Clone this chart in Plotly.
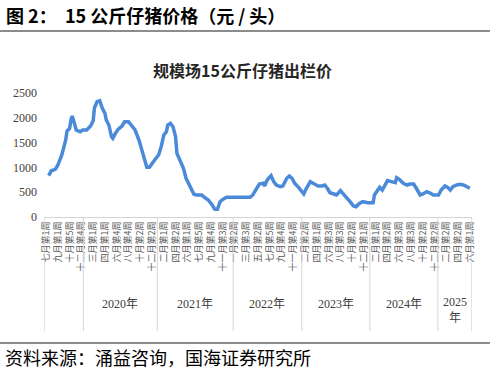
import plotly.graph_objects as go

# ---- data ----
week_idx = [2, 4, 7, 9, 12, 13, 15, 16, 18, 19, 20, 22, 23, 26, 28, 31, 34, 36, 37, 39,
            41, 43, 45, 46, 48, 50, 51, 53, 55, 58, 60, 63, 65, 68, 71, 73, 75, 77, 79, 81,
            83, 86, 88, 90, 92, 93, 95, 97, 99, 100, 102, 105, 107, 110, 113, 115, 119, 121, 124, 127,
            129, 131, 133, 135, 138, 143, 150, 156, 158, 161, 163, 166, 167, 169, 172, 174, 176, 179, 181, 184,
            186, 188, 190, 193, 195, 197, 199, 202, 204, 208, 211, 213, 215, 217, 220, 222, 225, 228, 230, 233,
            235, 237, 239, 242, 246, 250, 251, 253, 255, 257, 259, 261, 264, 267, 268, 270, 273, 276, 278, 281,
            283, 286, 288, 291, 294, 296, 300, 302, 305, 307, 309, 311, 314, 316, 319, 321, 324]
price = [833, 933, 960, 1048, 1250, 1350, 1552, 1734, 1788, 1955, 2036, 1855, 1754, 1720, 1754, 1754, 1835, 1941, 2204, 2325,
         2345, 2191, 2090, 1955, 1855, 1619, 1586, 1687, 1768, 1835, 1921, 1921, 1855, 1754, 1552, 1350, 1183, 1002, 1002, 1083,
         1149, 1250, 1418, 1653, 1720, 1855, 1889, 1821, 1619, 1284, 1149, 982, 780, 611, 458, 444, 444, 397, 343, 242,
         155, 155, 309, 356, 397, 397, 397, 397, 444, 579, 665, 679, 625, 746, 833, 712, 645, 611, 625, 780,
         827, 780, 679, 598, 524, 464, 579, 712, 679, 625, 625, 645, 579, 490, 464, 444, 530, 444, 397, 289,
         222, 208, 262, 309, 289, 289, 444, 511, 598, 544, 645, 733, 712, 692, 793, 760, 679, 645, 665, 665,
         579, 444, 464, 511, 477, 444, 444, 544, 625, 598, 544, 611, 645, 659, 645, 625, 579]

tick_text = ["七月第1周", "九月第1周", "十月第5周", "十二月第4周",
             "三月第1周", "四月第1周", "六月第4周", "八月第4周", "十月第2周", "十二月第2周",
             "二月第1周", "四月第2周", "六月第1周", "七月第5周", "九月第4周", "十一月第3周",
             "一月第2周", "三月第3周", "五月第2周", "七月第5周", "九月第4周", "十一月第4周",
             "二月第2周", "四月第1周", "六月第3周", "八月第3周", "十月第2周", "十二月第1周",
             "二月第1周", "四月第2周", "六月第3周", "八月第3周", "十月第2周", "十二月第2周",
             "二月第2周", "四月第2周", "六月第1周"]
tick_step = 9
tick_vals = [i * tick_step for i in range(len(tick_text))]

year_bounds = [-1.5, 28.5, 85, 143, 195.5, 247.5, 299.5, 325.5]
year_labels = ["", "2020年", "2021年", "2022年", "2023年", "2024年", "2025<br>年"]

y_ticks = [0, 500, 1000, 1500, 2000, 2500]

# ---- layout helpers (pixel -> paper) ----
W, H = 492, 371
L, R, T, B = 44, 20, 93, 154
PW, PH = W - L - R, H - T - B


def px(x):
    return (x - L) / PW


def py(y):
    return (H - B - y) / PH


fig = go.Figure()
fig.add_trace(go.Scatter(x=week_idx, y=price, mode="lines",
                         line=dict(color="#4A8AD8", width=3.5), hoverinfo="skip"))

shapes = []
for b in year_bounds:
    shapes.append(dict(type="line", xref="x", yref="paper", x0=b, x1=b,
                       y0=py(217), y1=py(331), line=dict(color="#d4d4d4", width=1)))
# header / footer rules
shapes.append(dict(type="line", xref="paper", yref="paper", x0=px(0), x1=px(490),
                   y0=py(31), y1=py(31), line=dict(color="#8c8c8c", width=2)))
shapes.append(dict(type="line", xref="paper", yref="paper", x0=px(0), x1=px(490),
                   y0=py(343), y1=py(343), line=dict(color="#8c8c8c", width=2)))

annotations = []
for i, lab in enumerate(year_labels):
    if not lab:
        continue
    cx = (year_bounds[i] + year_bounds[i + 1]) / 2
    annotations.append(dict(text=lab, xref="x", yref="paper", x=cx, y=py(304) if "<br>" not in lab else py(310),
                            showarrow=False, xanchor="center", yanchor="middle",
                            font=dict(family="Liberation Serif, Noto Sans CJK SC", size=12, color="#404040")))
annotations.append(dict(text="<b>图 2：  15 公斤仔猪价格（元 / 头）</b>", xref="paper", yref="paper",
                        x=px(4), y=py(15), xanchor="left", yanchor="middle", showarrow=False,
                        font=dict(family="Noto Sans CJK SC", size=18, color="#000000")))
annotations.append(dict(text="<b>规模场15公斤仔猪出栏价</b>", xref="paper", yref="paper",
                        x=px(242), y=py(70), xanchor="center", yanchor="middle", showarrow=False,
                        font=dict(family="Noto Sans CJK SC", size=16, color="#262626")))
annotations.append(dict(text="资料来源：涌益咨询，国海证券研究所", xref="paper", yref="paper",
                        x=px(3), y=py(357), xanchor="left", yanchor="middle", showarrow=False,
                        font=dict(family="Noto Sans CJK SC", size=18, color="#000000")))

fig.update_layout(
    width=W, height=H,
    margin=dict(l=L, r=R, t=T, b=B),
    paper_bgcolor="white", plot_bgcolor="white",
    showlegend=False,
    shapes=shapes, annotations=annotations,
    xaxis=dict(range=[-1.6, 325.6], tickmode="array", tickvals=tick_vals, ticktext=tick_text,
               tickangle=-90, showgrid=False, zeroline=False, showline=True,
               linecolor="#d4d4d4", linewidth=1, ticks="",
               tickfont=dict(family="Noto Sans CJK SC", size=9, color="#595959")),
    yaxis=dict(range=[0, 2500], tickmode="array", tickvals=y_ticks, showgrid=False,
               zeroline=False, showline=False, ticks="", ticklabelstandoff=6,
               tickfont=dict(family="Liberation Serif", size=12, color="#404040")),
)

fig.write_html("out.html")
